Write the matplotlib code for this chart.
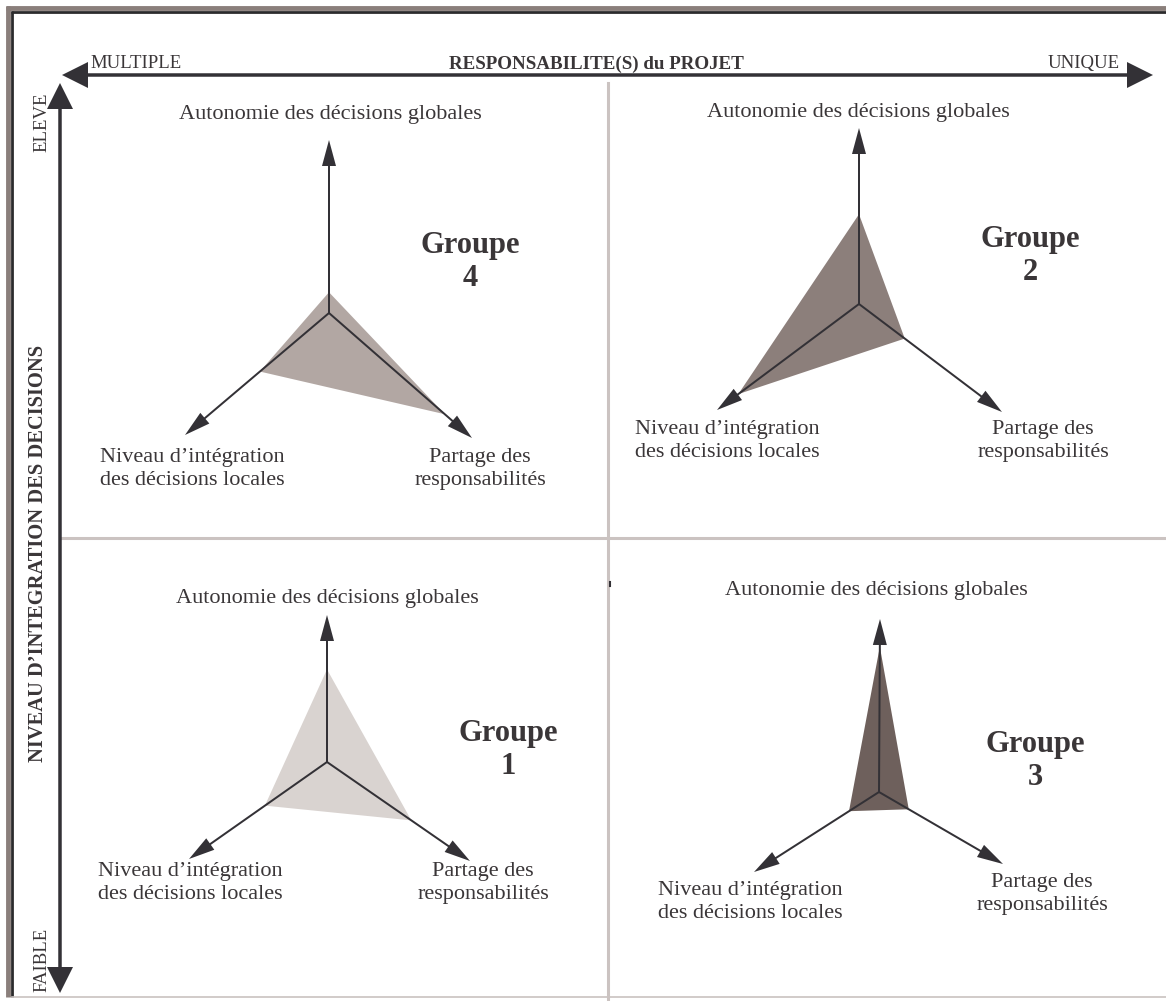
import matplotlib
matplotlib.use("Agg")
import matplotlib.pyplot as plt
from matplotlib.patches import FancyArrow, Polygon

plt.rcParams['font.family'] = ['Liberation Serif', 'DejaVu Serif']

# data: groups and their scores on the three axes (fraction of axis length)
groups = [1, 2, 3, 4]
autonomie = [0.63, 0.51, 0.84, 0.12]
integration = [0.45, 0.85, 0.24, 0.48]
partage = [0.59, 0.32, 0.24, 0.81]
fill_colors = ['#d9d3d0', '#8c7f7b', '#6e605c', '#b2a7a3']

axis_labels = ['Autonomie des décisions globales',
               'Niveau d’intégration\ndes décisions locales',
               'Partage des\nresponsabilités']
x_title = 'RESPONSABILITE(S) du PROJET'
x_left, x_right = 'MULTIPLE', 'UNIQUE'
y_title = 'NIVEAU D’INTEGRATION DES DECISIONS'
y_top, y_bottom = 'ELEVE', 'FAIBLE'

# layout (pixel coords) per group: centre, up tip, left tip, right tip
layout = {
    1: dict(c=(327, 762), up=(327, 615), left=(189, 859), right=(470, 861),
            lab_up=(327, 598), lab_left=(190, 883), lab_right=(483, 883), grp=(508, 750)),
    2: dict(c=(859, 304), up=(859, 128), left=(717, 410), right=(1002, 412),
            lab_up=(858, 113), lab_left=(727, 441), lab_right=(1043, 441), grp=(1030, 256)),
    3: dict(c=(879, 792), up=(880, 619), left=(754, 872), right=(1003, 864),
            lab_up=(876, 591), lab_left=(750, 902), lab_right=(1042, 894), grp=(1035, 761)),
    4: dict(c=(329, 313), up=(329, 140), left=(185, 435), right=(472, 438),
            lab_up=(330, 115), lab_left=(192, 469), lab_right=(480, 469), grp=(470, 262)),
}

W, H = 1166, 1001
fig = plt.figure(figsize=(W / 100, H / 100), dpi=100)
ax = fig.add_axes([0, 0, 1, 1])
ax.set_xlim(0, W)
ax.set_ylim(H, 0)
ax.axis('off')

dark = '#333136'
txt = '#3a3638'

# frame
ax.plot([6, W], [8, 8], color='#8a7f7b', lw=3.5, solid_capstyle='butt')
ax.plot([8, 8], [6, 997], color='#8a7f7b', lw=3.5, solid_capstyle='butt')
ax.plot([11, W], [12, 12], color='#2b2a2c', lw=2, solid_capstyle='butt')
ax.plot([12, 12], [11, 997], color='#2b2a2c', lw=2, solid_capstyle='butt')
ax.plot([12, W], [997, 997], color='#c9c2c0', lw=1.2)

# quadrant dividers
div = '#cbc3c1'
ax.plot([608, 608], [83, H], color=div, lw=2.2)
ax.plot([62, W], [538, 538], color=div, lw=2.2)
ax.plot([610, 610], [582, 586], color=dark, lw=1.5)


def arrow(x0, y0, x1, y1, lw, hl, hw):
    ax.add_patch(FancyArrow(x0, y0, x1 - x0, y1 - y0, width=lw, head_length=hl,
                            head_width=hw, length_includes_head=True,
                            color=dark, lw=0, zorder=4))


# main axes: double headed arrows
arrow(600, 75, 62, 75, 3.5, 26, 26)
arrow(600, 75, 1153, 75, 3.5, 26, 26)
arrow(60, 540, 60, 83, 3.5, 26, 26)
arrow(60, 540, 60, 993, 3.5, 26, 26)

ax.text(90, 68, x_left, fontsize=13.5, color=txt, ha='left', va='baseline')
ax.text(1120, 68, x_right, fontsize=13.5, color=txt, ha='right', va='baseline')
ax.text(596, 64, x_title, fontsize=13.7, color=txt, ha='center', va='center', fontweight='bold')
ax.text(42, 122, y_top, fontsize=13.5, color=txt, ha='center', va='center', rotation=90)
ax.text(42, 960, y_bottom, fontsize=13.5, color=txt, ha='center', va='center', rotation=90)
ax.text(38, 553, y_title, fontsize=14.8, color=txt, ha='center', va='center',
        rotation=90, fontweight='bold')

# radar-like triangles
for g, a, i, p, col in zip(groups, autonomie, integration, partage, fill_colors):
    L = layout[g]
    cx, cy = L['c']
    pts = []
    for key, v in (('up', a), ('left', i), ('right', p)):
        tx, ty = L[key]
        pts.append((cx + v * (tx - cx), cy + v * (ty - cy)))
    ax.add_patch(Polygon(pts, closed=True, facecolor=col, edgecolor='none', zorder=2))
    for key in ('up', 'left', 'right'):
        tx, ty = L[key]
        arrow(cx, cy, tx, ty, 2.0, 26, 14)
    ax.text(*L['lab_up'], axis_labels[0], fontsize=16, color=txt, ha='center', va='center')
    ax.text(*L['lab_left'], axis_labels[1], fontsize=16, color=txt, ha='center', va='center',
            linespacing=1.25)
    ax.text(*L['lab_right'], axis_labels[2], fontsize=16, color=txt, ha='center', va='center',
            linespacing=1.25)
    ax.text(*L['grp'], 'Groupe\n%d' % g, fontsize=22, color=txt, ha='center', va='center',
            fontweight='bold', linespacing=1.15)

fig.savefig('out.png', dpi=100)
